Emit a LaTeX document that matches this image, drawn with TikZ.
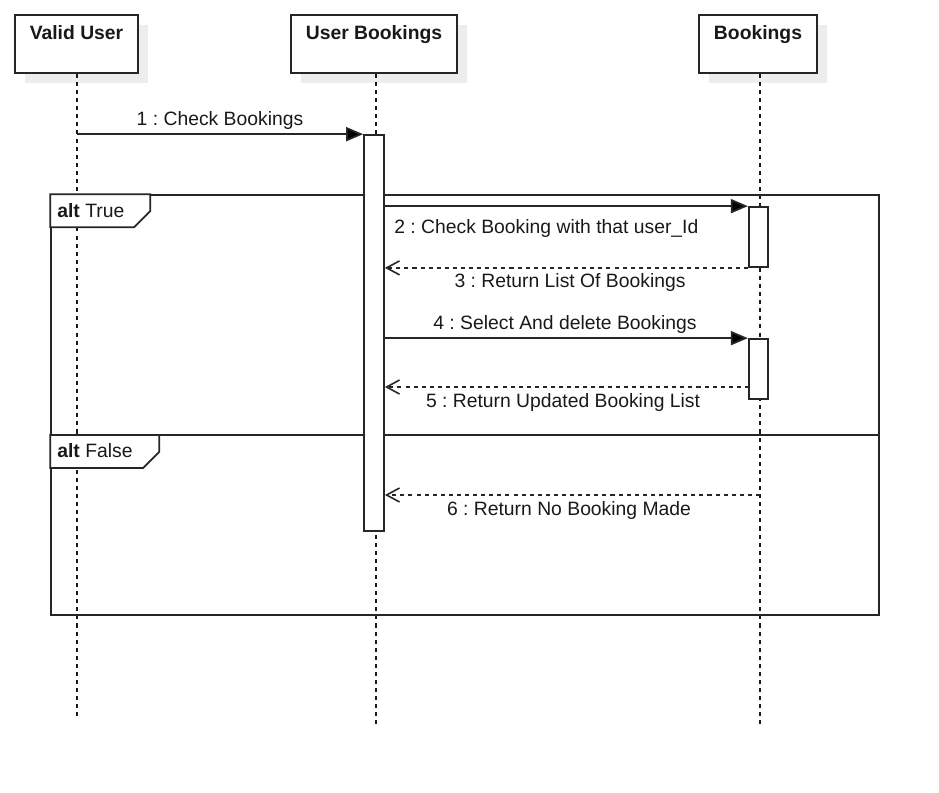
\documentclass[tikz,border=0pt]{standalone}
\usepackage{fontspec}
\setmainfont{Liberation Sans}
\usetikzlibrary{arrows.meta, shadows}
\frenchspacing

\begin{document}
\begin{tikzpicture}[x=0.02cm, y=-0.02cm,
	every node/.style={font=\fontsize{11pt}{13pt}\selectfont, text=black!90, text height=0.72em, text depth=0pt},
	head/.style={draw=black!85, line width=1pt, fill=white, minimum height=1.16cm, inner sep=0pt,
		drop shadow={shadow xshift=0.2cm, shadow yshift=-0.2cm, fill=black!7, opacity=1}},
	headtext/.style={font=\fontsize{11pt}{13pt}\selectfont\bfseries, anchor=center, yshift=-0.38cm},
	life/.style={draw=black!90, line width=0.7pt, dash pattern=on 2.3pt off 2.3pt},
	act/.style={draw=black!85, line width=1pt, fill=white, inner sep=0pt},
	msg/.style={draw=black!85, line width=1pt, -{Triangle[length=0.34cm, width=0.28cm, fill=black]}},
	ret/.style={draw=black!85, line width=0.9pt, dash pattern=on 2.3pt off 2.3pt,
		-{Straight Barb[length=0.26cm, width=0.28cm, line width=0.9pt]}},
	tab/.style={draw=black!85, line width=1pt, fill=white}
]
	\useasboundingbox (0,0) rectangle (939,792);

	\node[head, minimum width=2.46cm,
		label={[headtext]north:Valid User}
	] (vu) at (76.5,44) {};
	\node[head, minimum width=3.32cm,
		label={[headtext]north:User Bookings}
	] (ub) at (374,44) {};
	\node[head, minimum width=2.36cm,
		label={[headtext]north:Bookings}
	] (bk) at (758,44) {};

	\coordinate (vuend) at (77,718);
	\coordinate (ubend) at (376,727);
	\coordinate (bkend) at (760,727);

	\draw[life] (vu.south -| vuend) -- (vuend);
	\draw[life] (ub.south -| ubend) -- (ubend);
	\draw[life] (bk.south -| bkend) -- (bkend);

	\node[draw=black!85, line width=1pt, minimum width=16.56cm, minimum height=8.4cm, inner sep=0pt] (alt) at (465,405) {};
	\draw[draw=black!85, line width=1pt] (alt.west |- 0,435) -- (alt.east |- 0,435);

	\draw[tab] (alt.north west) -- ++(100,0) -- ++(0,17) -- ++(-16,16) -- ++(-84,0) -- cycle;
	\node[anchor=west, inner sep=0pt] (tabtrue) at (57,211) {\textbf{alt} True};
	\draw[tab] (alt.west |- 0,435) -- ++(109,0) -- ++(0,17) -- ++(-16,16) -- ++(-93,0) -- cycle;
	\node[anchor=west, inner sep=0pt] (tabfalse) at (57,451) {\textbf{alt} False};

	\node[act, minimum width=0.4cm, minimum height=7.92cm] (a0) at (374,333) {};
	\node[act, minimum width=0.39cm, minimum height=1.2cm] (b1) at (758.5,237) {};
	\node[act, minimum width=0.39cm, minimum height=1.2cm] (b2) at (758.5,369) {};

	\coordinate (m5) at (749,387);
	\coordinate (m6) at (760,495);

	\draw[msg] (vuend |- a0.north) -- (a0.north west);
	\node (l1) at (220,119) {1 : Check Bookings};

	\draw[msg] (a0.east |- b1.north) -- (b1.north west);
	\node[anchor=west, inner sep=0pt] (l2) at (394,227) {2 : Check Booking with that user\_Id};

	\draw[ret] (b1.south west) -- (a0.east |- b1.south);
	\node (l3) at (570,281) {3 : Return List Of Bookings};

	\draw[msg] (a0.east |- b2.north) -- (b2.north west);
	\node (l4) at (565,323) {4 : Select And delete Bookings};

	\draw[ret] (m5) -- (a0.east |- m5);
	\node (l5) at (563,401) {5 : Return Updated Booking List};

	\draw[ret] (m6) -- (a0.east |- m6);
	\node (l6) at (569,509) {6 : Return No Booking Made};
\end{tikzpicture}
\end{document}
